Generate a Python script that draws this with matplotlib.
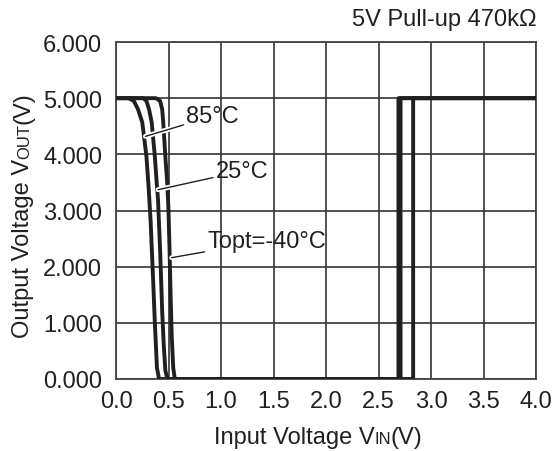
import matplotlib
matplotlib.use("Agg")
import matplotlib.pyplot as plt
import matplotlib.patheffects as pe

# data
vin_85 = [0, 0.12, 0.17, 0.21, 0.25, 0.27, 0.29, 0.31, 0.33, 0.355, 0.37, 0.39, 0.41, 2.69, 2.69, 4.0]
vout_85 = [5, 5, 4.95, 4.8, 4.57, 4.27, 3.96, 3.43, 2.8, 1.7, 1.0, 0.2, 0, 0, 5, 5]
vin_25 = [0, 0.26, 0.29, 0.315, 0.34, 0.37, 0.39, 0.40, 0.42, 0.44, 0.455, 0.47, 0.49, 2.71, 2.71, 4.0]
vout_25 = [5, 5, 4.95, 4.8, 4.57, 3.96, 3.43, 3.2, 2.3, 1.2, 0.6, 0.15, 0, 0, 5, 5]
vin_m40 = [0, 0.38, 0.42, 0.44, 0.45, 0.47, 0.49, 0.50, 0.51, 0.52, 0.53, 0.545, 0.56, 2.83, 2.83, 4.0]
vout_m40 = [5, 5, 4.95, 4.8, 4.57, 3.96, 3.43, 3.0, 2.3, 1.5, 0.8, 0.2, 0, 0, 5, 5]

labels = ["85°C", "25°C", "Topt=-40°C"]
label_tip = [(0.28, 4.32), (0.40, 3.37), (0.53, 2.16)]
label_txt = [(0.67, 4.68), (0.95, 3.70), (0.87, 2.46)]

xticks = [0.0, 0.5, 1.0, 1.5, 2.0, 2.5, 3.0, 3.5, 4.0]
yticks = [0, 1, 2, 3, 4, 5, 6]

plt.rcParams['font.family'] = ['Liberation Sans', 'DejaVu Sans']
fs = 17
ink = '#231f20'

fig = plt.figure(figsize=[5.6, 4.52], dpi=100)
ax = fig.add_axes([116/560, 1-380/452, 420/560, 337/452])

for xs, ys in [(vin_85, vout_85), (vin_25, vout_25), (vin_m40, vout_m40)]:
    ax.plot(xs, ys, color=ink, lw=2.8, solid_joinstyle='round', zorder=3)

ax.set_xlim(0, 4)
ax.set_ylim(0, 6)
ax.set_xticks(xticks)
ax.set_xticklabels(['%.1f' % v for v in xticks])
ax.set_yticks(yticks)
ax.set_yticklabels(['%.3f' % v for v in yticks])
ax.tick_params(length=0, labelsize=fs, colors=ink)
ax.tick_params(axis='y', pad=10)
ax.tick_params(axis='x', pad=8)
ax.grid(True, color='#333333', lw=1.2)
for s in ax.spines.values():
    s.set_color('#444444')
    s.set_linewidth(1.3)

halo = [pe.Stroke(linewidth=3.5, foreground='white'), pe.Normal()]
for lab, tip, pos in zip(labels, label_tip, label_txt):
    ax.annotate(lab, xy=tip, xytext=(pos[0], pos[1]), fontsize=fs, color=ink,
                ha='left', va='center', zorder=5,
                arrowprops=dict(arrowstyle='-', color=ink, lw=1.0, shrinkA=0, shrinkB=0,
                                path_effects=halo))

fig.text(537/560, 1-20/452, "5V Pull-up 470kΩ", ha='right', va='center', fontsize=fs, color=ink)

# labels with small caps subscripts on baseline
renderer = fig.canvas.get_renderer()


def chain(parts, cx, cy, vertical=False):
    txts = [fig.text(0, 0, s, fontsize=f, color=ink, ha='left', va='baseline',
                     rotation_mode='anchor') for s, f in parts]
    widths = [t.get_window_extent(renderer).width for t in txts]
    start = (cy if vertical else cx) - sum(widths)/2
    W, H = fig.bbox.width, fig.bbox.height
    for t, w in zip(txts, widths):
        if vertical:
            t.set_rotation(90)
            t.set_position((cx/W, start/H))
        else:
            t.set_position((start/W, cy/H))
        start += w


chain([("Input Voltage V", fs), ("IN", 12), ("(V)", fs)], 318, 452-444)
chain([("Output Voltage V", fs), ("OUT", 12), ("(V)", fs)], 29, 452-215, vertical=True)

fig.savefig("out.png", dpi=100)
